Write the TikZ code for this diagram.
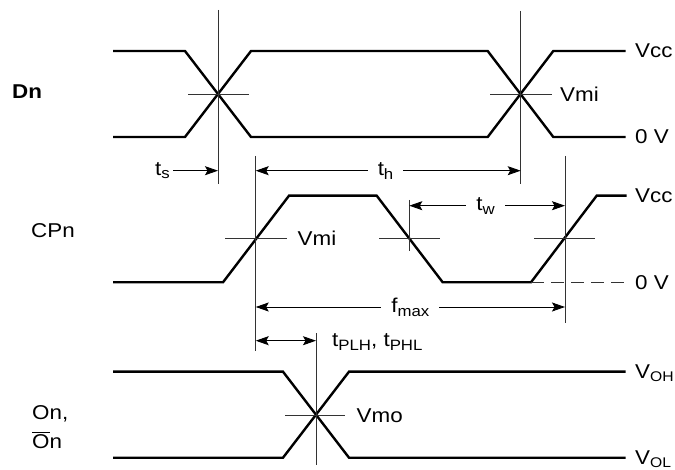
\documentclass[tikz,border=0pt]{standalone}
\usepackage{fontspec}
\usepackage{graphicx}
\setmainfont{Liberation Sans}
\usetikzlibrary{arrows.meta}
\newcommand\wid[1]{\scalebox{1.12}[1]{#1}}
\newcommand\sbs[1]{\raisebox{-3.8pt}{\fontsize{15}{15}\selectfont #1}}
\newcommand\sbv[1]{\raisebox{-3.5pt}{\fontsize{14}{14}\selectfont #1}}
\begin{document}
\begin{tikzpicture}[x=1pt,y=-1pt,
  sig/.style={line width=2.4pt, line join=miter},
  guide/.style={line width=0.9pt, draw=black!80},
  dimtip/.style={line width=0.9pt},
  tip/.tip={Stealth[length=13pt,width=9pt,inset=2.5pt]},
  lbl/.style={font=\fontsize{20}{22}\selectfont, inner sep=1pt},
  tlbl/.style={font=\fontsize{20}{22}\selectfont, inner sep=2pt},
  gap/.style={tlbl, fill=white, inner xsep=10pt, inner ysep=0pt}
]
\useasboundingbox (0,0) rectangle (675,470);

% ---------- Dn ----------
\draw[sig] (113,51) -- (185,51) -- (251,137) -- (487.7,137) -- (553.3,51) -- (625.7,51);
\draw[sig] (113,137) -- (185,137) -- (251,51) -- (487.7,51) -- (553.3,137) -- (625.7,137);
\draw[guide] (218,10) -- (218,184);
\draw[guide] (188,94) -- (249,94);
\draw[guide] (520.7,11) -- (520.7,184);
\draw[guide] (490,94) -- (551.7,94);

% ---------- CPn ----------
\draw[sig] (113,282.3) -- (223,282.3) -- (289,195.7) -- (376.7,195.7) -- (442.7,282.3) -- (531,282.3) -- (596.7,195.7) -- (626.7,195.7);
\draw[guide, dash pattern=on 13pt off 7pt] (531,282.3) -- (628,282.3);
\draw[guide] (255.7,156) -- (255.7,350.7);
\draw[guide] (225,238.3) -- (287,238.3);
\draw[guide] (409.3,200) -- (409.3,250.7);
\draw[guide] (379.3,238.3) -- (440.3,238.3);
\draw[guide] (565,156) -- (565,322.7);
\draw[guide] (534,238.3) -- (595.3,238.3);

% ---------- On ----------
\draw[sig] (113,371.7) -- (283,371.7) -- (349,457.7) -- (625.7,457.7);
\draw[sig] (113,457.7) -- (283,457.7) -- (349,371.7) -- (625.7,371.7);
\draw[guide] (316,333.3) -- (316,465);
\draw[guide] (285,415.7) -- (345,415.7);

% ---------- dimension arrows ----------
\coordinate (tsA) at (173,170.7);
\coordinate (tsB) at (218,170.7);
\coordinate (thA) at (255.7,170.7);
\coordinate (thB) at (520.7,170.7);
\coordinate (twA) at (409.3,205.7);
\coordinate (twB) at (565,205.7);
\coordinate (fmA) at (255.7,307);
\coordinate (fmB) at (565,307);
\coordinate (tpA) at (255.7,340.7);
\coordinate (tpB) at (316,340.7);

\draw[dimtip, -tip] (tsA) -- (tsB);
\node[tlbl, anchor=east] (ts) at ([xshift=-1pt]tsA) {\wid{t\sbs{s}}};
\draw[dimtip, tip-tip] (thA) -- node[gap, pos=0.49] (th) {\wid{t\sbs{h}}} (thB);
\draw[dimtip, tip-tip] (twA) -- node[gap, pos=0.49] (tw) {\wid{t\sbs{w}}} (twB);
\draw[dimtip, tip-tip] (fmA) -- node[gap, pos=0.5] (fm) {\wid{f\sbs{max}}} (fmB);
\draw[dimtip, tip-tip] (tpA) -- (tpB);
\node[tlbl, anchor=west] (tp) at (330,342) {\wid{t\sbs{PLH}, t\sbs{PHL}}};

% ---------- labels ----------
\node[lbl, anchor=west] (dn) at (11,92) {\wid{\bfseries Dn}};
\node[lbl, anchor=west] (cpn) at (30,231) {\wid{CPn}};
\node[lbl, anchor=base west] (on1) at (31,420) {\wid{On,}};
\node[lbl, anchor=base west] (on2) at (31,448) {\wid{$\overline{\mbox{O}}$n}};

\node[lbl, anchor=west] (vcc1) at (634,51) {\wid{Vcc}};
\node[lbl, anchor=west] (zv1) at (634,137) {\wid{0 V}};
\node[lbl, anchor=west] (vmi1) at (559,94) {\wid{Vmi}};
\node[lbl, anchor=west] (vcc2) at (634,195.7) {\wid{Vcc}};
\node[lbl, anchor=west] (zv2) at (634,282.3) {\wid{0 V}};
\node[lbl, anchor=west] (vmi2) at (296.5,238.3) {\wid{Vmi}};
\node[lbl, anchor=west] (vmo) at (355.5,415.7) {\wid{Vmo}};
\node[lbl, anchor=base west] (voh) at (634,378) {\wid{V\sbv{OH}}};
\node[lbl, anchor=base west] (vol) at (634,464) {\wid{V\sbv{OL}}};
\end{tikzpicture}
\end{document}
